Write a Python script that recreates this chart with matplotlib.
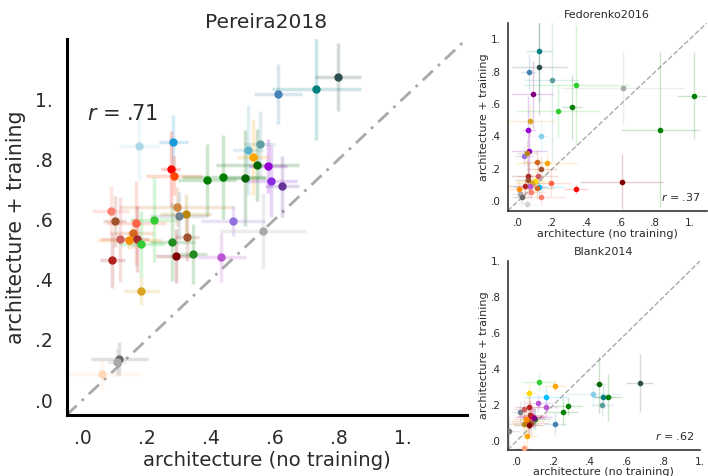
import matplotlib
matplotlib.use('Agg')
import matplotlib.pyplot as plt

tick_values = [0.0, 0.2, 0.4, 0.6, 0.8, 1.0]
tick_labels = ['.0', '.2', '.4', '.6', '.8', '1.']

# Pereira2018: untrained score, trained score, errors, colour
pereira_x = [0.797, 0.731, 0.612, 0.176, 0.284, 0.275, 0.286, 0.517, 0.553, 0.532,
             0.546, 0.580, 0.389, 0.440, 0.507, 0.589, 0.624, 0.294, 0.322, 0.302,
             0.223, 0.470, 0.563, 0.088, 0.100, 0.167, 0.159, 0.117, 0.146, 0.169,
             0.183, 0.281, 0.327, 0.292, 0.344, 0.093, 0.434, 0.184, 0.115, 0.107,
             0.060]
pereira_y = [1.074, 1.035, 1.016, 0.843, 0.859, 0.768, 0.746, 0.832, 0.851, 0.808,
             0.781, 0.777, 0.732, 0.742, 0.738, 0.727, 0.710, 0.643, 0.620, 0.613,
             0.600, 0.596, 0.561, 0.630, 0.594, 0.589, 0.555, 0.534, 0.531, 0.534,
             0.518, 0.525, 0.542, 0.480, 0.486, 0.466, 0.474, 0.363, 0.138, 0.126,
             0.085]
pereira_xerr = [0.072, 0.140, 0.075, 0.062, 0.045, 0.030, 0.088, 0.046, 0.048, 0.050,
                0.130, 0.060, 0.090, 0.130, 0.066, 0.080, 0.053, 0.180, 0.080, 0.090,
                0.074, 0.100, 0.135, 0.058, 0.035, 0.095, 0.060, 0.060, 0.100, 0.040,
                0.070, 0.070, 0.037, 0.063, 0.045, 0.040, 0.077, 0.055, 0.088, 0.030,
                0.123]
pereira_yerr = [0.114, 0.170, 0.100, 0.113, 0.090, 0.125, 0.066, 0.150, 0.110, 0.127,
                0.120, 0.090, 0.120, 0.140, 0.160, 0.120, 0.100, 0.066, 0.066, 0.077,
                0.140, 0.050, 0.127, 0.083, 0.085, 0.140, 0.050, 0.140, 0.030, 0.110,
                0.110, 0.130, 0.080, 0.090, 0.100, 0.094, 0.080, 0.047, 0.055, 0.045,
                0.050]
pereira_colors = ['darkslategray', 'teal', 'steelblue', 'lightblue', '#1a9ad6', 'red',
                  'orangered', '#5fb3c9', 'cadetblue', 'orange', 'darkgreen', 'darkviolet',
                  'green', 'green', 'darkgreen', 'blueviolet', 'rebeccapurple', 'peru',
                  'darkgoldenrod', 'slategray', 'limegreen', 'mediumpurple', 'darkgray',
                  'salmon', 'sienna', 'tomato', 'chocolate', 'indianred', 'darkorange',
                  'brown', 'limegreen', 'forestgreen', 'sienna', 'maroon', 'forestgreen',
                  'firebrick', 'mediumorchid', 'goldenrod', 'dimgray', 'darkgray',
                  'peachpuff']

# Fedorenko2016
fedorenko_x = [0.124, 0.124, 0.063, 0.198, 0.339, 0.610, 0.086, 1.025, 0.314, 0.231,
               0.069, 0.061, 0.831, 0.133, 0.067, 0.035, 0.053, 0.112, 0.167, 0.135,
               0.059, 0.116, 0.061, 0.102, 0.084, 0.604, 0.190, 0.337, 0.120, 0.039,
               0.004, 0.073, 0.112, 0.075, 0.010, 0.024, 0.137, 0.053]
fedorenko_y = [0.926, 0.830, 0.800, 0.748, 0.719, 0.699, 0.660, 0.652, 0.582, 0.557,
               0.494, 0.440, 0.443, 0.400, 0.313, 0.281, 0.295, 0.242, 0.238, 0.199,
               0.158, 0.156, 0.133, 0.123, 0.113, 0.119, 0.111, 0.074, 0.088, 0.092,
               0.076, 0.092, 0.082, 0.057, 0.047, 0.023, 0.025, -0.016]
fedorenko_xerr = [0.076, 0.160, 0.045, 0.160, 0.310, 0.360, 0.120, 0.100, 0.060, 0.240,
                  0.150, 0.040, 0.230, 0.045, 0.100, 0.050, 0.060, 0.080, 0.180, 0.090,
                  0.100, 0.120, 0.080, 0.100, 0.100, 0.240, 0.120, 0.070, 0.150, 0.110,
                  0.060, 0.090, 0.100, 0.080, 0.050, 0.060, 0.140, 0.060]
fedorenko_yerr = [0.310, 0.300, 0.110, 0.500, 0.370, 0.230, 0.210, 0.270, 0.200, 0.160,
                  0.100, 0.210, 0.480, 0.100, 0.140, 0.060, 0.080, 0.080, 0.060, 0.080,
                  0.080, 0.080, 0.100, 0.080, 0.060, 0.170, 0.080, 0.030, 0.060, 0.060,
                  0.050, 0.060, 0.070, 0.050, 0.050, 0.040, 0.050, 0.030]
fedorenko_colors = ['teal', 'darkslategray', 'steelblue', 'cadetblue', 'limegreen',
                    'darkgray', 'purple', 'green', 'green', 'limegreen', 'goldenrod',
                    'darkviolet', 'green', 'skyblue', 'darkviolet', 'mediumpurple',
                    'darkgoldenrod', 'chocolate', 'orange', 'sienna', 'brown',
                    'indianred', 'sienna', 'gold', 'goldenrod', 'maroon', 'tomato',
                    'red', 'deepskyblue', 'firebrick', 'darkorange', 'mediumorchid',
                    'chocolate', 'salmon', 'darkgray', 'dimgray', 'salmon', 'lightgray']

# Blank2014
blank_x = [0.669, 0.450, 0.121, 0.209, 0.067, 0.417, 0.469, 0.497, 0.157, 0.118,
           0.277, 0.467, 0.161, 0.069, 0.252, 0.019, 0.037, 0.209, 0.037, 0.058,
           -0.040, 0.037, 0.080, 0.090, 0.070, 0.100, 0.060, 0.085, 0.075, 0.050,
           0.095, 0.065]
blank_y = [0.322, 0.313, 0.328, 0.307, 0.264, 0.261, 0.244, 0.242, 0.244, 0.210,
           0.194, 0.199, 0.188, 0.190, 0.160, 0.160, 0.177, 0.093, 0.093, 0.026,
           0.052, -0.040, 0.140, 0.130, 0.145, 0.120, 0.110, 0.135, 0.100, 0.120,
           0.125, 0.090]
blank_xerr = [0.075, 0.030, 0.085, 0.060, 0.040, 0.150, 0.060, 0.075, 0.120, 0.080,
              0.080, 0.060, 0.060, 0.080, 0.080, 0.050, 0.060, 0.060, 0.080, 0.050,
              0.060, 0.040, 0.080, 0.100, 0.060, 0.080, 0.090, 0.060, 0.100, 0.070,
              0.060, 0.080]
blank_yerr = [0.160, 0.160, 0.050, 0.030, 0.060, 0.060, 0.060, 0.130, 0.060, 0.050,
              0.050, 0.060, 0.050, 0.060, 0.080, 0.060, 0.050, 0.060, 0.060, 0.060,
              0.080, 0.040, 0.060, 0.060, 0.080, 0.060, 0.080, 0.060, 0.070, 0.060,
              0.050, 0.060]
blank_colors = ['darkslategray', 'darkgreen', 'limegreen', 'orange', 'gold', 'skyblue',
                'teal', 'green', 'deepskyblue', 'mediumorchid', 'green', 'cadetblue',
                'mediumorchid', 'firebrick', 'green', 'slategray', 'indianred',
                'steelblue', 'darkgoldenrod', 'orange', 'gray', 'lightsalmon', 'red',
                'darkviolet', 'brown', 'forestgreen', 'chocolate', 'crimson', 'sienna',
                'darkorange', 'purple', 'maroon']

TEXT = '#2b2b2b'


def scatter_panel(ax, xs, ys, xerrs, yerrs, colors, lims, ms, elw, ealpha):
    for x, y, xe, ye, c in zip(xs, ys, xerrs, yerrs, colors):
        ax.errorbar(x, y, xerr=xe, yerr=ye, fmt='none', ecolor=c,
                    elinewidth=elw, alpha=ealpha, zorder=2)
        ax.plot(x, y, 'o', color=c, markersize=ms, zorder=3)
    ax.set_xlim(lims)
    ax.set_ylim(lims)
    ax.set_xticks(tick_values)
    ax.set_xticklabels(tick_labels)
    ax.set_yticks(tick_values)
    ax.set_yticklabels(tick_labels)
    ax.tick_params(length=0, labelcolor=TEXT)
    for side in ['top', 'right']:
        ax.spines[side].set_visible(False)


fig = plt.figure(figsize=(7.08, 4.76), dpi=100)

# main panel
ax = fig.add_axes([0.094, 0.128, 0.565, 0.79])
lims = (-0.05, 1.2)
ax.plot(lims, lims, color='darkgray', lw=2, dashes=(5, 2.5, 1, 2.5), zorder=1)
scatter_panel(ax, pereira_x, pereira_y, pereira_xerr, pereira_yerr, pereira_colors,
              lims, ms=5, elw=2.5, ealpha=0.2)
ax.tick_params(labelsize=13.5, pad=10)
for side in ['left', 'bottom']:
    ax.spines[side].set_linewidth(2.2)
ax.set_title('Pereira2018', fontsize=14.5, color=TEXT, pad=8)
ax.set_xlabel('architecture (no training)', fontsize=14.2, labelpad=2, color=TEXT)
ax.set_ylabel('architecture + training', fontsize=14.8, labelpad=6, color=TEXT)
ax.text(0.05, 0.80, '$r$ = .71', transform=ax.transAxes, fontsize=15, va='center',
        color=TEXT)

# small panels
small = [
    ([0.717, 0.557, 0.281, 0.394], (-0.06, 1.1), 'Fedorenko2016', '.37',
     fedorenko_x, fedorenko_y, fedorenko_xerr, fedorenko_yerr, fedorenko_colors),
    ([0.717, 0.055, 0.272, 0.397], (-0.05, 1.0), 'Blank2014', '.62',
     blank_x, blank_y, blank_xerr, blank_yerr, blank_colors),
]
for rect, lim, title, r, xs, ys, xes, yes, cs in small:
    sax = fig.add_axes(rect)
    sax.plot(lim, lim, color='darkgray', lw=1, ls='--', zorder=1)
    scatter_panel(sax, xs, ys, xes, yes, cs, lim, ms=3, elw=1, ealpha=0.2)
    sax.tick_params(labelsize=7.5, pad=5)
    for side in ['left', 'bottom']:
        sax.spines[side].set_linewidth(1.2)
        sax.spines[side].set_color('#333333')
    sax.set_title(title, fontsize=8, pad=4, color=TEXT)
    sax.set_xlabel('architecture (no training)', fontsize=8, labelpad=0.5, color=TEXT)
    sax.set_ylabel('architecture + training', fontsize=8, labelpad=1, color=TEXT)
    sax.text(0.97, 0.04, '$r$ = ' + r, transform=sax.transAxes, fontsize=8,
             ha='right', va='bottom', color=TEXT)

fig.savefig('out.png', dpi=100)
